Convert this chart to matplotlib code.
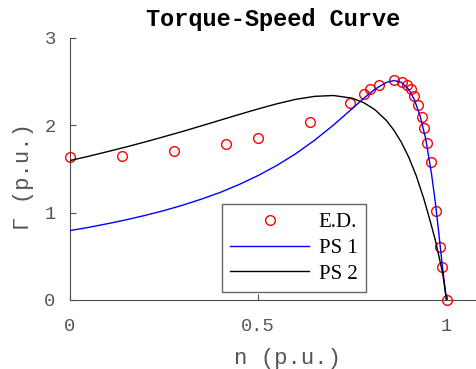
import numpy as np
import matplotlib
matplotlib.use("Agg")
import matplotlib.pyplot as plt


# --------------------------------------------------
# DATA  (per-unit speed n, per-unit torque)
# --------------------------------------------------
ed_n = [0.0, 0.138, 0.276, 0.414, 0.501, 0.639, 0.743, 0.780, 0.796, 0.820,
        0.862, 0.883, 0.894, 0.907, 0.913, 0.925, 0.934, 0.939, 0.947, 0.958,
        0.973, 0.984, 0.989, 1.0]
ed_T = [1.636, 1.648, 1.705, 1.785, 1.854, 2.037, 2.254, 2.357, 2.414, 2.46,
        2.517, 2.494, 2.46, 2.414, 2.33, 2.23, 2.094, 1.968, 1.796, 1.579,
        1.018, 0.606, 0.378, 0.0]

ps1_n = [0.0, 0.05, 0.1, 0.15, 0.2, 0.25, 0.3, 0.35, 0.4, 0.45, 0.5, 0.55,
         0.6, 0.65, 0.7, 0.75, 0.78, 0.81, 0.84, 0.86, 0.88, 0.9, 0.915,
         0.93, 0.945, 0.96, 0.97, 0.98, 0.99, 1.0]
ps1_T = [0.793, 0.83, 0.872, 0.917, 0.967, 1.022, 1.084, 1.154, 1.231, 1.321,
         1.423, 1.539, 1.673, 1.827, 2.0, 2.189, 2.305, 2.41, 2.488, 2.51,
         2.49, 2.408, 2.289, 2.105, 1.839, 1.45, 1.13, 0.75, 0.35, 0.0]

ps2_n = [0.0, 0.05, 0.1, 0.15, 0.2, 0.25, 0.3, 0.35, 0.4, 0.45, 0.5, 0.55,
         0.6, 0.65, 0.7, 0.75, 0.78, 0.81, 0.84, 0.86, 0.88, 0.9, 0.92,
         0.94, 0.955, 0.97, 0.98, 0.99, 1.0]
ps2_T = [1.594, 1.643, 1.696, 1.75, 1.807, 1.867, 1.928, 1.992, 2.057, 2.122,
         2.185, 2.244, 2.295, 2.329, 2.339, 2.308, 2.258, 2.177, 2.056, 1.945,
         1.806, 1.632, 1.418, 1.156, 0.93, 0.69, 0.50, 0.30, 0.0]

legend_labels = ["E.D.", "PS 1", "PS 2"]
x_ticks = [0, 0.5, 1]
y_ticks = [0, 1, 2, 3]


# --------------------------------------------------
# STYLE
# --------------------------------------------------
MONO   = ["Liberation Mono", "DejaVu Sans Mono"]
SERIF  = ["Liberation Serif", "DejaVu Serif"]
AXCOL  = "#4d4d4d"
TXTCOL = "#555555"

W, H = 476, 369
L, R, B, T = 69.5, 476, 69, 331.3   # axes box in pixels (from bottom)

fig = plt.figure(figsize=(W / 100, H / 100), dpi=100)
ax = fig.add_axes([L / W, B / H, (R - L) / W, (T - B) / H])

ax.plot(ed_n, ed_T, "o", color="red", mfc="none", ms=7, mew=1.0,
        clip_on=False, label=legend_labels[0], zorder=3)
ax.plot(ps1_n, ps1_T, color="blue", lw=1.0, label=legend_labels[1], zorder=4)
ax.plot(ps2_n, ps2_T, color="black", lw=1.0, label=legend_labels[2], zorder=4)

ax.set_xlim(0, (R - L) / 377)
ax.set_ylim(0, 3)
ax.set_xticks(x_ticks)
ax.set_xticklabels(["0", "0.5", "1"])
ax.set_yticks(y_ticks)

for side in ["top", "right"]:
    ax.spines[side].set_visible(False)
for side in ["left", "bottom"]:
    ax.spines[side].set_color(AXCOL)
    ax.spines[side].set_linewidth(0.8)

ax.tick_params(axis="both", direction="in", length=4, width=0.8,
               color=AXCOL, labelcolor=TXTCOL, labelsize=13.5)
ax.tick_params(axis="x", pad=13)
ax.tick_params(axis="y", pad=10)
for lbl in ax.get_xticklabels() + ax.get_yticklabels():
    lbl.set_family(MONO)

ax.set_xlabel("n (p.u.)", family=MONO, fontsize=16, color=TXTCOL)
ax.xaxis.set_label_coords(0.5375, -0.222)
ax.xaxis.label.set_va("center")

ax.set_ylabel("Γ (p.u.)", family=MONO, fontsize=16, color=TXTCOL)
ax.yaxis.set_label_coords(-0.113, 0.47)
ax.yaxis.label.set_va("center")

ax.text(0.502, 1.071, "Torque-Speed Curve", transform=ax.transAxes,
        ha="center", va="center", family=MONO, fontsize=17,
        fontweight="bold", color="black")

leg = ax.legend(loc="lower left", bbox_to_anchor=(0.375, 0.0305),
                borderaxespad=0, prop={"family": SERIF, "size": 15},
                handlelength=3.8, handletextpad=0.45, numpoints=1,
                labelspacing=0.3, borderpad=0.4, fancybox=False,
                framealpha=1, edgecolor="#666666")
leg.get_frame().set_linewidth(1.0)

fig.savefig("out.png", dpi=100)
